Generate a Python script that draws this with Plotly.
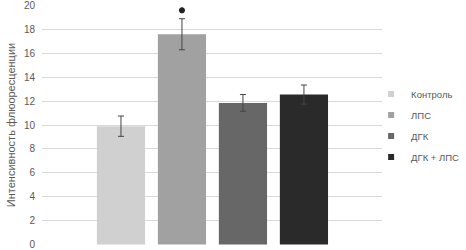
import plotly.graph_objects as go

groups = ["Контроль", "ЛПС", "ДГК", "ДГК + ЛПС"]
values = [9.9, 17.6, 11.85, 12.55]
errors = [0.85, 1.3, 0.7, 0.8]
colors = ["#d0d0d0", "#a1a1a1", "#676767", "#2a2a2a"]
star_group = "ЛПС"
star_value = 19.6
yticks = [0, 2, 4, 6, 8, 10, 12, 14, 16, 18, 20]

font = "Liberation Sans"
fig = go.Figure()
for i, (g, v, e, c) in enumerate(zip(groups, values, errors, colors)):
    fig.add_trace(go.Bar(
        x=[i], y=[v], name=g, width=0.79,
        marker=dict(color=c, line=dict(width=0)),
        error_y=dict(type="data", array=[e], color="#444444", thickness=1, width=3),
        legendgroup=g, showlegend=False,
    ))
    # legend swatch (small square, like the original)
    fig.add_trace(go.Scatter(
        x=[None], y=[None], mode="markers", name=g, legendgroup=g,
        marker=dict(symbol="square", size=6, color=c),
        hoverinfo="skip",
    ))

fig.add_trace(go.Scatter(
    x=[groups.index(star_group)], y=[star_value], mode="markers",
    marker=dict(symbol="asterisk-open", size=5, line=dict(width=2, color="#222222"), color="#222222"),
    showlegend=False, hoverinfo="skip",
))

fig.update_layout(
    width=466, height=250,
    margin=dict(l=42, r=84, t=5, b=5, autoexpand=False),
    paper_bgcolor="white", plot_bgcolor="white",
    font=dict(family=font, size=10, color="#595959"),
    showlegend=True,
    legend=dict(x=0.968, y=0.69, xanchor="left", yanchor="top",
                bgcolor="rgba(0,0,0,0)",
                font=dict(size=9.5, color="#595959"),
                traceorder="grouped", tracegroupgap=2,
                itemwidth=30),
    xaxis=dict(range=[-1.295, 4.28], showticklabels=False, showgrid=False,
               zeroline=False, showline=False, ticks="", automargin=False),
    yaxis=dict(range=[-0.05, 20.05], tickvals=yticks, ticktext=[str(t) for t in yticks],
               showgrid=True, gridcolor="#d9d9d9", gridwidth=1,
               zeroline=False, showline=False, ticks="", automargin=False,
               ticklabeloverflow="allow", ticklabelstandoff=6,
               tickfont=dict(size=10, color="#595959"),
               title=dict(text="Интенсивность флюоресценции",
                          font=dict(size=11, color="#595959"), standoff=6)),
)

fig.write_html("out.html", config={"displayModeBar": False},
               post_script="document.body.style.margin='0';document.body.style.overflow='hidden';")
